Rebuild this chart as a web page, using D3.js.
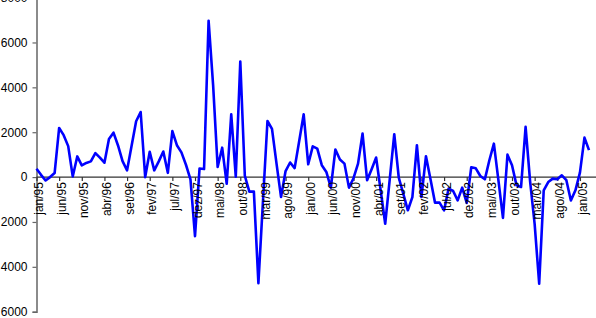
<!DOCTYPE html>
<html>
<head>
<meta charset="utf-8">
<script src="https://cdn.jsdelivr.net/npm/d3@7"></script>
<style>
  body { margin: 0; background: #fff; }
  svg { display: block; }
  text { font-family: "Liberation Sans", Arial, sans-serif; }
</style>
</head>
<body>
<svg id="chart" width="596" height="318"></svg>
<script>
// Monthly series, jan/95 .. mar/05
const monthNames = ['jan', 'fev', 'mar', 'abr', 'mai', 'jun', 'jul', 'ago', 'set', 'out', 'nov', 'dez'];
const startYear = 1995;
const values = [
    370, 100, -150, 0, 180, 2190, 1870, 1380, 30, 920, 520, 630,
    700, 1070, 870, 640, 1700, 1980, 1410, 710, 300, 1400, 2490, 2900,
    0, 1130, 300, 700, 1140, 190, 2050, 1420, 1100, 550, -100, -2630,
    380, 360, 6970, 4100, 450, 1310, -300, 2800, 20, 5150, 60, -650,
    -650, -4730, -1100, 2500, 2150, 600, -890, 270, 650, 400, 1600, 2800,
    570, 1370, 1270, 530, 230, -470, 1230, 780, 600, -470, -50, 600,
    1940, -140, 350, 870, -600, -2080, -100, 1910, -30, -750, -1480, -890,
    1420, -890, 930, -100, -1140, -1140, -1480, -510, -620, -1040, -470, -1150,
    440, 390, 50, -100, 750, 1490, -150, -1820, 1000, 530, -370, -440,
    2240, -200, -2100, -4750, -590, -220, -70, -100, 80, -140, -1040, -590,
    200, 1760, 1200
];
const yTicks = [-6000, -4000, -2000, 0, 2000, 4000, 6000, 8000];
const labelEvery = 5;

const categories = values.map((v, i) => {
    const m = i % 12;
    const y = (startYear + Math.floor(i / 12)) % 100;
    return monthNames[m] + '/' + String(y).padStart(2, '0');
});

const svg = d3.select('#chart');
const plot = { left: 36.5, right: 589, top: -2.4, bottom: 311.7 };

const x = d3.scalePoint()
    .domain(categories)
    .range([plot.left, plot.right]);

const y = d3.scaleLinear()
    .domain([-6000, 8000])
    .range([plot.bottom, plot.top]);

// y axis
const yAxis = d3.axisLeft(y)
    .tickValues(yTicks)
    .tickSize(4)
    .tickPadding(5)
    .tickFormat(d => d3.format('d')(Math.abs(d)));

const gy = svg.append('g')
    .attr('transform', `translate(${plot.left},0)`)
    .call(yAxis);
gy.select('.domain').attr('stroke', '#666').attr('stroke-width', 1.5);
gy.selectAll('.tick line').attr('stroke', '#666').attr('stroke-width', 1.2);
gy.selectAll('.tick text')
    .attr('fill', '#000')
    .style('font-size', '12px');

// x axis at zero
const tickCats = categories.filter((c, i) => i % labelEvery === 0);
const xAxis = d3.axisBottom(x)
    .tickValues(tickCats)
    .tickSize(4)
    .tickSizeOuter(0)
    .tickFormat('');

const gx = svg.append('g')
    .attr('transform', `translate(0,${y(0)})`)
    .call(xAxis);
gx.select('.domain').attr('stroke', '#333').attr('stroke-width', 1.2)
    .attr('d', `M${plot.left},0H${596}`);
gx.selectAll('.tick line').attr('stroke', '#333').attr('stroke-width', 1.2);

// line
const line = d3.line()
    .x((d, i) => x(categories[i]))
    .y(d => y(d));

svg.append('path')
    .datum(values)
    .attr('fill', 'none')
    .attr('stroke', '#0000ff')
    .attr('stroke-width', 2.6)
    .attr('stroke-linejoin', 'round')
    .attr('d', line);

// rotated category labels (drawn over the line, like the original)
svg.append('g')
    .selectAll('text')
    .data(tickCats)
    .join('text')
    .attr('transform', d => `translate(${x(d)},${y(0) + 5}) rotate(-90)`)
    .attr('text-anchor', 'end')
    .attr('dy', '0.55em')
    .attr('fill', '#000')
    .style('font-size', '12px')
    .text(d => d);
</script>
</body>
</html>
